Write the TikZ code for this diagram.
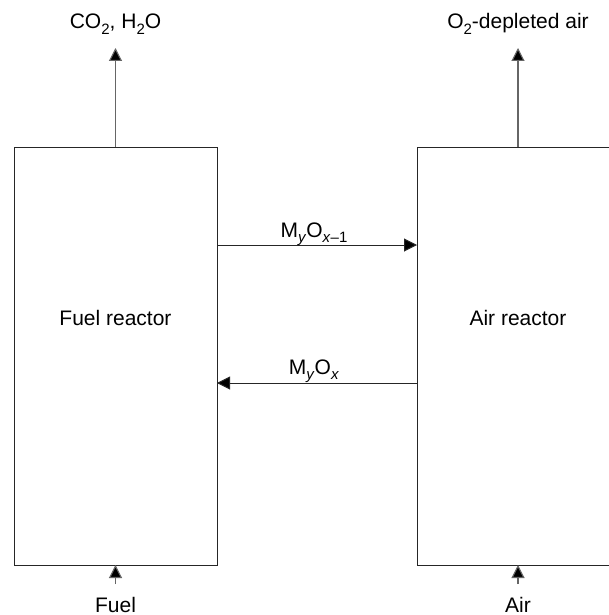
\documentclass[tikz,border=0pt]{standalone}
\usepackage{fontspec}
\setmainfont{Liberation Sans}
\usetikzlibrary{arrows.meta}
\newcommand{\sbx}[1]{\raisebox{-0.28em}{\fontsize{15}{15}\selectfont #1}}
\begin{document}
\begin{tikzpicture}[x=1pt,y=-1pt,
  lbl/.style={inner sep=0pt,font=\fontsize{21}{24}\selectfont},
  reactor/.style={draw=black!85,line width=1pt},
  flow/.style={draw=black!60,line width=1.1pt,-{Triangle[length=13pt,width=13pt,fill=black]}},
  xflow/.style={draw=black!85,line width=1pt,-{Triangle[length=13pt,width=13pt,fill=black]}}]
\useasboundingbox (0,0) rectangle (609,615);
\fill[white] (0,0) rectangle (609,615);
\draw[reactor] (14,147) rectangle (217,565);
\draw[reactor] (417,147) -- (614,147) (417,147) -- (417,565) -- (614,565);
\node[lbl] (frl) at (115.5,318) {Fuel reactor};
\node[lbl] (arl) at (518,318) {Air reactor};
\coordinate (ftop) at (115.5,147);
\coordinate (atop) at (518,147);
\coordinate (fbot) at (115.5,565);
\coordinate (abot) at (518,565);
\coordinate (fend) at (115.5,48);
\coordinate (aend) at (518,48);
\node[lbl,anchor=base] (co2) at (115.5,29) {CO\sbx{2}, H\sbx{2}O};
\node[lbl,anchor=base] (o2) at (518,29) {O\sbx{2}-depleted air};
\coordinate (fstart) at (115.5,584);
\coordinate (astart) at (518,584);
\node[lbl,anchor=base] (fuel) at (115.5,612) {Fuel};
\node[lbl,anchor=base] (air) at (518,612) {Air};
\draw[flow] (ftop) -- (fend);
\draw[flow] (atop) -- (aend);
\draw[flow] (fstart) -- (fbot);
\draw[flow] (astart) -- (abot);
\coordinate (r1a) at (217,245);
\coordinate (r1b) at (417,245);
\coordinate (r2a) at (417,383);
\coordinate (r2b) at (217,383);
\draw[xflow] (r1a) -- (r1b);
\draw[xflow] (r2a) -- (r2b);
\node[lbl,anchor=base] (m1) at (314,237) {M\sbx{\textit{y}}O\sbx{\textit{x}–1}};
\node[lbl,anchor=base] (m2) at (314,374) {M\sbx{\textit{y}}O\sbx{\textit{x}}};
\end{tikzpicture}
\end{document}
